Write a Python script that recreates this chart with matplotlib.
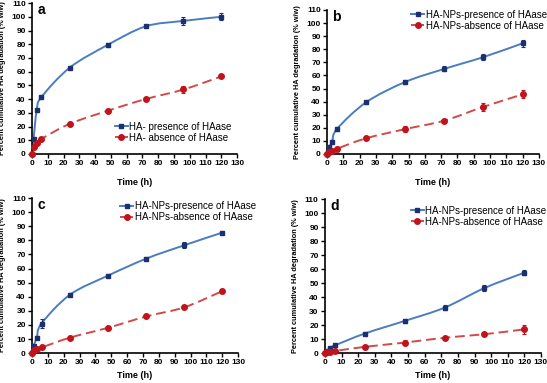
import numpy as np
import matplotlib
matplotlib.use('Agg')
import matplotlib.pyplot as plt
from matplotlib.path import Path
from matplotlib.patches import PathPatch
from matplotlib.lines import Line2D

plt.rcParams['font.family'] = ['Liberation Sans', 'DejaVu Sans']

time_h = [0, 1, 3, 6, 24, 48, 72, 96, 120]

# panel a
a_pres = [0, 11, 32, 41.5, 63, 79.5, 93, 97, 100]
a_pres_err = [0.8, 1, 1, 1, 1.2, 1.2, 1.2, 3, 2.5]
a_abs = [0, 5, 8, 11, 22, 31.5, 40, 47, 56.5]
a_abs_err = [0.5, 0.8, 0.8, 1, 1, 1, 1, 2.5, 1.2]

# panel b
b_pres = [0, 5, 9, 19, 39.5, 55, 65, 74, 84.5]
b_pres_err = [0.8, 1, 1.5, 1.5, 1.2, 1.2, 2, 2, 2.5]
b_abs = [0, 1.5, 2.5, 4, 12, 19, 25.5, 36, 45.5]
b_abs_err = [0.5, 0.8, 0.8, 1, 1.2, 2.5, 1.2, 3, 3]

# panel c
c_pres = [0, 5, 11, 21, 41.5, 55, 67, 76.5, 85.5]
c_pres_err = [0.8, 1, 1.2, 3, 1.2, 1.2, 1, 2, 1]
c_abs = [0, 2, 3, 4, 11, 18, 26, 32.5, 44]
c_abs_err = [0.5, 0.8, 0.8, 0.8, 0.8, 1, 1, 1, 1]

# panel d
d_pres = [0, 1.5, 3.5, 5.5, 14, 23, 32.5, 46.5, 57.5]
d_pres_err = [0.8, 0.8, 1, 1, 1.2, 1.5, 2, 2, 2]
d_abs = [0, 0.5, 1, 1.5, 4.5, 7.5, 11, 13.5, 17]
d_abs_err = [0.5, 0.5, 0.8, 0.8, 1.2, 2, 1, 1.2, 3]

labels_a = ['HA- presence of HAase', 'HA- absence of HAase']
labels_np = ['HA-NPs-presence of HAase', 'HA-NPs-absence of HAase']

blue_line = '#4a7dc0'
blue_mark = '#1c2f6e'
red_line = '#d04a48'
red_mark = '#c0141c'


def smooth_path(ax, x, y, color, ls):
    # Excel-like smooth line: cubic Bezier through the points (Catmull-Rom)
    pts = np.column_stack([x, y]).astype(float)
    n = len(pts)
    verts = [pts[0]]
    codes = [Path.MOVETO]
    for i in range(n - 1):
        p0 = pts[i - 1] if i > 0 else pts[i]
        p1 = pts[i]
        p2 = pts[i + 1]
        p3 = pts[i + 2] if i + 2 < n else pts[i + 1]
        c1 = p1 + (p2 - p0) / 6.0
        c2 = p2 - (p3 - p1) / 6.0
        verts += [c1, c2, p2]
        codes += [Path.CURVE4] * 3
    patch = PathPatch(Path(verts, codes), fill=False, edgecolor=color,
                      lw=1.4, linestyle=ls, capstyle='butt', zorder=2)
    ax.add_patch(patch)


def panel(rect, letter, pres, pres_err, absn, absn_err, labels, legloc, xpad):
    ax = fig.add_axes(rect)
    smooth_path(ax, time_h, pres, blue_line, '-')
    smooth_path(ax, time_h, absn, red_line, (0, (5, 2.5)))
    ax.errorbar(time_h, pres, yerr=pres_err, fmt='none', ecolor=blue_mark,
                elinewidth=0.8, capsize=1.2, capthick=0.8, zorder=3, clip_on=False)
    ax.errorbar(time_h, absn, yerr=absn_err, fmt='none', ecolor=red_mark,
                elinewidth=0.8, capsize=1.2, capthick=0.8, zorder=3, clip_on=False)
    ax.plot(time_h, pres, ls='none', marker='s', ms=3, color=blue_mark,
            zorder=4, clip_on=False)
    ax.plot(time_h, absn, ls='none', marker='o', ms=4, color=red_mark,
            zorder=4, clip_on=False)

    ax.set_xlim(0, 130)
    ax.set_ylim(0, 110)
    ax.set_xticks(np.arange(0, 131, 10))
    ax.set_yticks(np.arange(0, 111, 10))
    for s in ['top', 'right']:
        ax.spines[s].set_visible(False)
    for s in ['left', 'bottom']:
        ax.spines[s].set_linewidth(1.2)
    ax.tick_params(direction='out', length=3, width=1, labelsize=6, pad=1.5)
    for t in ax.get_xticklabels() + ax.get_yticklabels():
        t.set_fontweight('bold')
    ax.set_xlabel('Time (h)', fontsize=6.5, fontweight='bold', labelpad=xpad)
    ax.set_ylabel('Percent cumulative HA degradation (% w/w)', fontsize=5.3,
                  fontweight='bold', labelpad=4)
    ax.text(0.025, 1.0, letter, transform=ax.transAxes, fontsize=10,
            fontweight='bold', va='top', ha='left')

    h1 = Line2D([], [], color=blue_line, lw=1.4, marker='s', ms=3,
                mfc=blue_mark, mec=blue_mark)
    h2 = Line2D([], [], color=red_line, lw=1.4, ls=(0, (3, 1.5)), marker='o',
                ms=4, mfc=red_mark, mec=red_mark)
    ax.legend([h1, h2], labels, loc='lower left', bbox_to_anchor=legloc,
              frameon=False, fontsize=7, handlelength=1.3, handletextpad=0.2,
              labelspacing=0.1, borderaxespad=0.0)
    return ax


fig = plt.figure(figsize=(5.47, 3.83), dpi=100)

panel([0.0585, 0.598, 0.375, 0.394], 'a', a_pres, a_pres_err, a_abs, a_abs_err,
      labels_a, (0.385, 0.05), 8)
panel([0.598, 0.598, 0.387, 0.376], 'b', b_pres, b_pres_err, b_abs, b_abs_err,
      labels_np, (0.38, 0.83), 8)
panel([0.0585, 0.078, 0.377, 0.405], 'c', c_pres, c_pres_err, c_abs, c_abs_err,
      labels_np, (0.41, 0.82), 3)
panel([0.594, 0.078, 0.395, 0.402], 'd', d_pres, d_pres_err, d_abs, d_abs_err,
      labels_np, (0.38, 0.795), 3)

fig.savefig('out.png', dpi=100)
